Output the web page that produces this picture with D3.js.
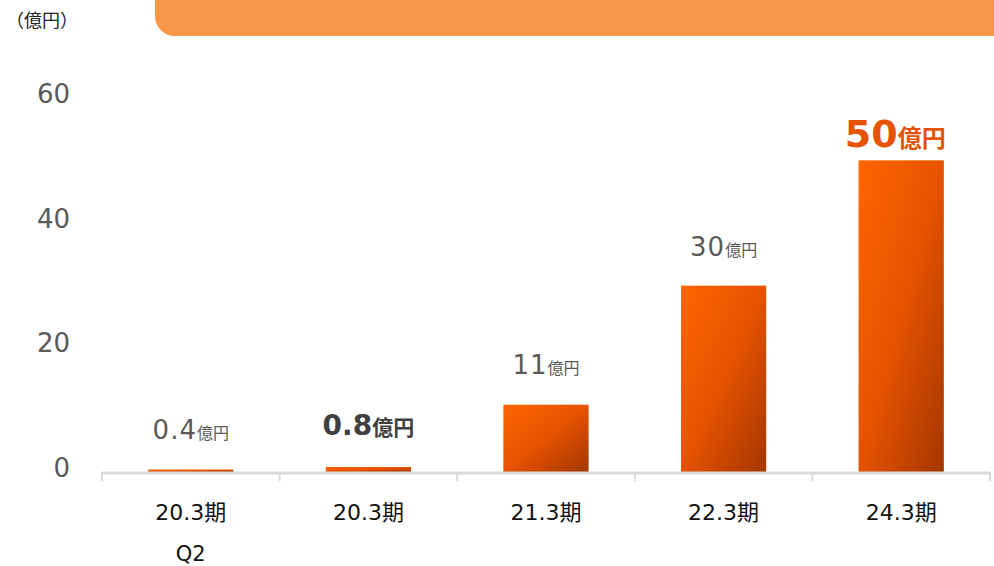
<!DOCTYPE html>
<html>
<head>
<meta charset="utf-8">
<script src="https://cdn.jsdelivr.net/npm/d3@7"></script>
<style>
  body { margin: 0; background: #fff; }
  svg { display: block; font-family: "DejaVu Sans", "Noto Sans CJK JP", sans-serif; }
</style>
</head>
<body>
<svg id="chart"></svg>
<script>
// data
const categories = ["20.3期", "20.3期", "21.3期", "22.3期", "24.3期"];
const subLabels = ["Q2", "", "", "", ""];
const values = [0.4, 0.8, 10.8, 29.9, 50];
const valueLabels = ["0.4", "0.8", "11", "30", "50"];
const unitLabel = "億円";
const yTicks = [0, 20, 40, 60];

const config = {
    width: 994,
    height: 566,
    xRange: [102, 990],
    yRange: [472, 98]
};

const svg = d3.select("#chart")
    .attr("width", config.width)
    .attr("height", config.height);

// gradient for bars (top-left bright -> bottom-right dark)
const grad = svg.append("defs").append("linearGradient")
    .attr("id", "barGrad")
    .attr("x1", 0).attr("y1", 0)
    .attr("x2", 1).attr("y2", 1);
grad.append("stop").attr("offset", "0%").attr("stop-color", "#ff6600");
grad.append("stop").attr("offset", "50%").attr("stop-color", "#e65200");
grad.append("stop").attr("offset", "100%").attr("stop-color", "#a33700");

// orange banner at top right
const bx = 155, bh = 36, br = 20;
svg.append("path")
    .attr("d", `M${bx},0 H${config.width} V${bh} H${bx + br} A${br},${br} 0 0 1 ${bx},${bh - br} Z`)
    .attr("fill", "#f79646");

// unit label
svg.append("text")
    .attr("x", 6)
    .attr("y", 27)
    .attr("font-size", 18)
    .attr("font-family", "'Noto Sans CJK JP', sans-serif")
    .attr("fill", "#222")
    .text("（億円）");

const x = d3.scaleBand()
    .domain(d3.range(categories.length))
    .range(config.xRange)
    .paddingInner(0.52)
    .paddingOuter(0.26);

const y = d3.scaleLinear()
    .domain([0, 60])
    .range(config.yRange);

// y tick labels (no axis line)
svg.append("g")
    .selectAll("text")
    .data(yTicks)
    .join("text")
    .attr("x", 70)
    .attr("y", d => y(d) + 5)
    .attr("text-anchor", "end")
    .attr("font-size", 26)
    .attr("fill", "#595959")
    .text(d => d);

// bars
svg.append("g")
    .selectAll("rect")
    .data(values)
    .join("rect")
    .attr("x", (d, i) => x(i))
    .attr("width", x.bandwidth())
    .attr("y", d => y(d))
    .attr("height", d => y(0) - y(d))
    .attr("fill", "url(#barGrad)");

// x axis line + ticks
const axisG = svg.append("g");
axisG.append("line")
    .attr("x1", config.xRange[0]).attr("x2", config.xRange[1])
    .attr("y1", 473).attr("y2", 473)
    .attr("stroke", "#d9d9d9")
    .attr("stroke-width", 3);
axisG.selectAll(".tick")
    .data(d3.range(categories.length + 1))
    .join("line")
    .attr("class", "tick")
    .attr("x1", i => config.xRange[0] + i * x.step())
    .attr("x2", i => config.xRange[0] + i * x.step())
    .attr("y1", 472)
    .attr("y2", 481)
    .attr("stroke", "#d9d9d9")
    .attr("stroke-width", 2);

// category labels
const catG = svg.append("g");
catG.selectAll(".cat")
    .data(categories)
    .join("text")
    .attr("class", "cat")
    .attr("x", (d, i) => x(i) + x.bandwidth() / 2)
    .attr("y", 520)
    .attr("text-anchor", "middle")
    .attr("font-size", 22)
    .attr("fill", "#111")
    .text(d => d);
catG.selectAll(".sub")
    .data(subLabels)
    .join("text")
    .attr("class", "sub")
    .attr("x", (d, i) => x(i) + x.bandwidth() / 2)
    .attr("y", 561)
    .attr("text-anchor", "middle")
    .attr("font-size", 21)
    .attr("fill", "#111")
    .text(d => d);

// value labels
const styles = [
    { num: 26, unit: 16, weight: "normal", fill: "#595959", off: 31, dx: 0 },
    { num: 28, unit: 21, weight: "bold", fill: "#404040", off: 32, dx: 0 },
    { num: 26, unit: 16, weight: "normal", fill: "#595959", off: 31, dx: 0 },
    { num: 26, unit: 16, weight: "normal", fill: "#595959", off: 30, dx: 0 },
    { num: 38, unit: 24, weight: "bold", fill: "#e55300", off: 13, dx: -6 }
];

const lbl = svg.append("g")
    .selectAll("text")
    .data(values)
    .join("text")
    .attr("x", (d, i) => x(i) + x.bandwidth() / 2 + styles[i].dx)
    .attr("y", (d, i) => y(d) - styles[i].off)
    .attr("text-anchor", "middle")
    .attr("fill", (d, i) => styles[i].fill)
    .attr("font-weight", (d, i) => styles[i].weight);

lbl.append("tspan")
    .attr("font-size", (d, i) => styles[i].num)
    .attr("letter-spacing", (d, i) => styles[i].weight === "bold" ? 0 : 1)
    .text((d, i) => valueLabels[i]);
lbl.append("tspan")
    .attr("font-size", (d, i) => styles[i].unit)
    .attr("font-family", "'Noto Sans CJK JP', sans-serif")
    .text(unitLabel);
</script>
</body>
</html>
